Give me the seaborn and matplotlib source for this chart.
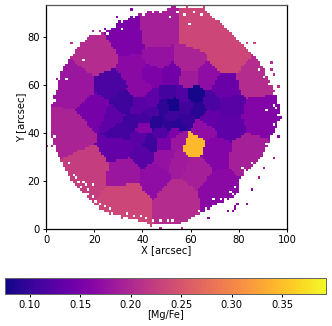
import numpy as np
import matplotlib
matplotlib.use('Agg')
import matplotlib.pyplot as plt
import seaborn as sns

# voronoi bins: centre and [Mg/Fe] of each bin
bin_x = [34, 46, 63, 75, 86, 88, 22.5, 13, 11, 18, 34, 33, 45, 54, 72, 83, 70, 62, 61, 55, 55, 65, 75, 50,
         31, 40, 43, 39, 32, 40, 49, 48, 46, 21, 28, 32, 27, 39, 36, 40, 44, 44, 49, 36, 40, 59, 59, 66, 74,
         52, 62, 57, 51, 52.5, 58, 63, 68, 76, 58, 52.5, 67.5, 51, 54.5, 53, 36, 44, 47]
bin_y = [79, 81, 81, 71, 62, 48, 71.5, 59, 41, 25, 13, 24, 22, 14, 17, 31, 32, 25, 35, 28, 37, 42, 44, 30,
         34, 31, 36, 38, 41, 42, 36, 40, 44.5, 49.5, 47, 52, 60, 51, 44, 46, 54, 49, 51, 44, 58, 70, 63, 63, 59,
         64, 55.5, 55.5, 56, 52, 51, 50, 53, 51, 46, 47, 46, 43, 44, 40, 66, 64, 71]
bin_val = [0.155, 0.19, 0.235, 0.235, 0.205, 0.16, 0.205, 0.18, 0.195, 0.225, 0.235, 0.18, 0.17, 0.205, 0.165, 0.19,
           0.16, 0.19, 0.345, 0.185, 0.18, 0.17, 0.13, 0.175,
           0.135, 0.125, 0.105, 0.125, 0.11, 0.16, 0.15, 0.12, 0.09, 0.15, 0.13, 0.105, 0.115, 0.125, 0.105, 0.11,
           0.13, 0.115, 0.095, 0.105, 0.165, 0.195, 0.185, 0.17, 0.14,
           0.145, 0.08, 0.12, 0.11, 0.08, 0.105, 0.09, 0.115, 0.125, 0.10, 0.105, 0.135, 0.095, 0.09, 0.155,
           0.165, 0.155, 0.175]

# solid part of the map, first and last+1 column for every row (bottom to top)
row_left = [0, 0, 42, 38, 34, 30, 26, 24, 22, 21, 20, 19, 18, 17, 16, 15, 14, 13, 12, 11, 10, 10, 9, 9, 8, 8, 7, 7,
            6, 6, 5, 5, 4, 4, 4, 3, 3, 3, 2, 2, 2, 2, 2, 2, 2, 2, 2, 2, 2, 2, 2, 2, 3, 3, 3, 3, 4, 4, 5, 5, 5, 5, 6, 6,
            6, 6, 7, 7, 8, 9, 9, 10, 11, 12, 12, 13, 14, 15, 16, 17, 18, 23, 25, 27, 29, 29, 30, 33, 35, 38, 42, 50,
            52, 0]
row_right = [0, 0, 56, 58, 60, 62, 64, 66, 68, 69, 71, 74, 76, 78, 79, 80, 80, 80, 80, 80, 81, 81, 82, 82, 84, 85, 86, 87,
             88, 89, 90, 90, 91, 91, 92, 92, 93, 93, 94, 94, 95, 95, 96, 96, 96, 97, 97, 97, 97, 97, 97, 97, 96, 96, 96,
             96, 95, 95, 94, 94, 93, 93, 92, 92, 91, 91, 91, 90, 89, 89, 88, 87, 86, 85, 84, 83, 82, 81, 80, 79, 78, 77,
             76, 75, 74, 73, 72, 70, 69, 68, 67, 66, 54, 0]

# lone pixels outside the solid part
speck_x = [10, 14, 19, 22, 24, 4, 29, 35, 58, 53, 65, 86, 83, 79, 93, 93, 96, 94, 97, 0, 2, 2, 31, 43, 38, 47, 56, 58,
           67, 75, 83, 77, 78, 78, 79, 94, 96, 90, 88, 85]
speck_y = [77, 77, 82, 82, 83, 62, 88, 91, 92, 93, 92, 77, 77, 77, 69, 66, 59, 64, 46, 34, 34, 39, 4, 1, 3, 0, 0, 3,
           4, 7, 10, 7, 8, 9, 10, 29, 38, 25, 21, 16]

# gaps inside the solid part, the edge of the map is frayed
hole_x = [8, 15, 31, 59, 51, 91, 94, 94, 91, 81, 83, 76, 69, 72, 19, 9, 14, 16, 21, 3, 3,
          11, 12, 13, 15, 16, 17, 17, 19, 20, 22, 24, 26, 27, 30, 33, 36, 39, 41, 44, 47, 50, 52,
          63, 66, 69, 72, 74, 77, 78, 80, 82, 85, 87, 90, 92, 93, 95, 96, 95, 94, 92, 90, 88,
          25, 27, 31, 33, 36, 40, 44, 47, 54, 57, 61, 64]
hole_y = [62, 70, 83, 85, 88, 49, 51, 43, 35, 25, 21, 15, 12, 10, 18, 27, 17, 14, 9, 38, 53,
          22, 21, 19, 19, 18, 16, 14, 13, 11, 10, 9, 8, 6, 5, 6, 5, 5, 4, 3, 3, 3, 3,
          7, 8, 9, 12, 12, 14, 17, 20, 24, 27, 27, 31, 33, 38, 41, 47, 50, 56, 60, 63, 66,
          81, 84, 86, 87, 88, 89, 90, 90, 90, 89, 90, 89]

x_ticks = [0, 20, 40, 60, 80, 100]
y_ticks = [0, 20, 40, 60, 80]
cbar_ticks = [0.10, 0.15, 0.20, 0.25, 0.30, 0.35]

# fill the pixels with the value of their closest bin
nx, ny = 100, len(row_left)
xx, yy = np.meshgrid(np.arange(nx) + 0.5, np.arange(ny) + 0.5)
dist = (xx[..., None] - np.array(bin_x)) ** 2 + (yy[..., None] - np.array(bin_y)) ** 2
grid = np.array(bin_val)[dist.argmin(axis=-1)]

mask = np.ones((ny, nx), dtype=bool)
for row in range(ny):
    mask[row, row_left[row]:row_right[row]] = False
mask[speck_y, speck_x] = False
mask[hole_y, hole_x] = True

plt.rcParams['font.size'] = 7.2
fig = plt.figure(figsize=(3.32, 3.26), dpi=100)
ax = fig.add_axes([46 / 332, 97 / 326, 241 / 332, 224 / 326])
cax = fig.add_axes([5 / 332, 32 / 326, 321 / 332, 16 / 326])

sns.heatmap(grid, mask=mask, cmap='plasma', vmin=0.0755, vmax=0.3936, ax=ax, cbar_ax=cax,
            cbar_kws={'orientation': 'horizontal', 'ticks': cbar_ticks, 'format': '%.2f'},
            xticklabels=False, yticklabels=False)

ax.set_xlim(0, 100)
ax.set_ylim(0, 93.4)
ax.set_xticks(x_ticks)
ax.set_xticklabels(x_ticks, rotation=0)
ax.set_yticks(y_ticks)
ax.set_yticklabels(y_ticks, rotation=0)
ax.set_xlabel('X [arcsec]', labelpad=0)
ax.set_ylabel('Y [arcsec]', labelpad=0.5)
ax.tick_params(length=2.5, width=0.7, pad=2, labelsize=7.2)
for side in ax.spines:
    ax.spines[side].set_visible(True)
    ax.spines[side].set_linewidth(0.9)
ax.spines['top'].set_color('#555555')

cax.set_xlabel('[Mg/Fe]', fontsize=7, labelpad=0.5)
cax.tick_params(length=2.5, width=0.7, pad=1.5, labelsize=7.2)
for side in cax.spines:
    cax.spines[side].set_visible(True)
    cax.spines[side].set_linewidth(0.7)
    cax.spines[side].set_color('#666666')

fig.savefig('out.png', dpi=100)
